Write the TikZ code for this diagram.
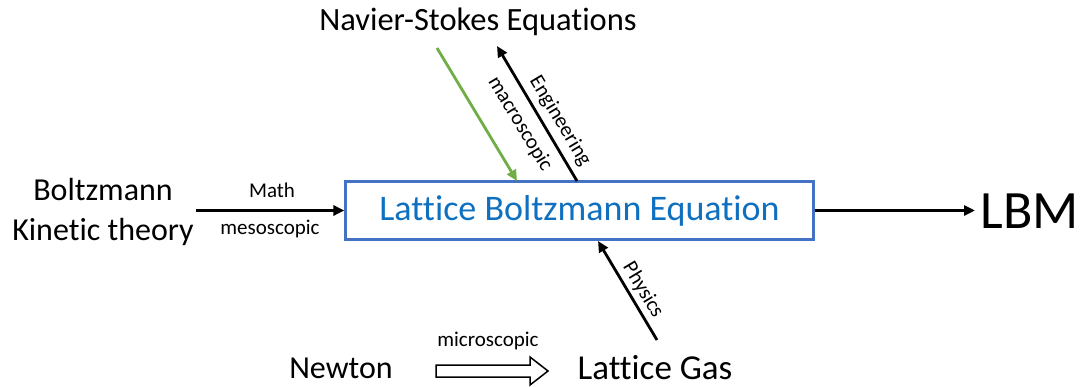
\documentclass[tikz,border=0pt]{standalone}
\usepackage{fontspec}
\setmainfont[Ligatures=NoCommon]{Carlito}
\usetikzlibrary{arrows.meta}
\definecolor{boxblue}{HTML}{4472C4}
\definecolor{txtblue}{HTML}{0F70C0}
\definecolor{lgreen}{HTML}{70AD47}
\begin{document}
\begin{tikzpicture}[x=1pt,y=-1pt,
  conn/.style={line width=2.8pt,-{Triangle[length=11pt,width=10pt]}},
  lbl/.style={font=\fontsize{21}{24}\selectfont,inner sep=1pt},
  big/.style={font=\fontsize{32}{38}\selectfont,inner sep=0pt,align=center}]
\useasboundingbox (0,0) rectangle (1084,387);
\node[draw=boxblue,line width=2.2pt,minimum width=468pt,minimum height=58pt,inner sep=0pt,
  text=txtblue,font=\fontsize{36}{40}\selectfont] (lbe) at (579.5,210.5) {Lattice Boltzmann Equation};
\node[big,font=\fontsize{32.5}{38}\selectfont] (ns) at (478,22) {Navier-Stokes Equations};
\node[big,font=\fontsize{32}{40}\selectfont] (bk) at (103,212) {Boltzmann\\Kinetic theory};
\node[font=\fontsize{54}{60}\selectfont,inner sep=0pt] (lbm) at (1030,211) {LBM};
\node[big] (newton) at (341,368) {Newton};
\node[big,font=\fontsize{35}{40}\selectfont] (lg) at (655,368) {Lattice Gas};
\coordinate (gs) at (437,48);
\coordinate (ge) at (517,181);
\coordinate (es) at (577,181);
\coordinate (ee) at (497,46);
\coordinate (ps) at (657,340);
\coordinate (pe) at (598,241);
\coordinate (bs) at (196,210.5);
\coordinate (le) at (975,210.5);
\draw[conn] (bs) -- (lbe.west);
\draw[conn] (lbe.east) -- (le);
\draw[conn,draw=lgreen,-{Triangle[length=11pt,width=10pt,fill=lgreen]}] (gs) -- (ge);
\draw[conn] (es) -- (ee);
\draw[conn] (ps) -- (pe);
\node[lbl] (math) at (272,190) {Math};
\node[lbl] (meso) at (270,229) {mesoscopic};
\node[lbl,rotate=-59] (macro) at (520,124) {macroscopic};
\node[lbl,rotate=-59] (eng) at (560,121) {Engineering};
\node[lbl,rotate=-59] (phys) at (643,290) {Physics};
\node[lbl] (micro) at (488,341) {microscopic};
\draw[line width=1.5pt,line join=miter]
  (436,365) -- (530,365) -- (530,357) -- (548,371) -- (530,385) -- (530,377) -- (436,377) -- cycle;
\end{tikzpicture}
\end{document}
